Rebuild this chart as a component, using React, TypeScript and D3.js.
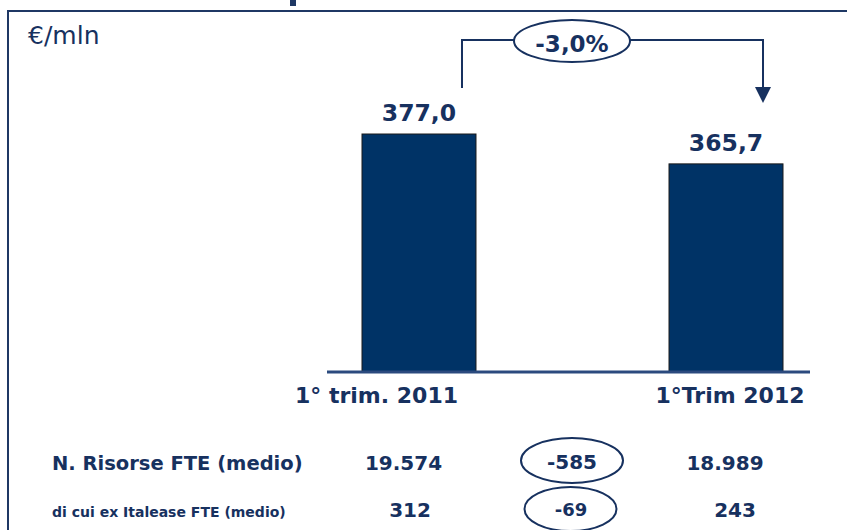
import React from "react";
import * as d3 from "d3";

const categories = ["1° trim. 2011", "1°Trim 2012"];
const values = [377.0, 365.7];
const valueLabels = ["377,0", "365,7"];
const deltaLabel = "-3,0%";
const rowLabels = ["N. Risorse FTE (medio)", "di cui ex Italease FTE (medio)"];
const rowStart = ["19.574", "312"];
const rowDelta = ["-585", "-69"];
const rowEnd = ["18.989", "243"];
const unitLabel = "€/mln";

const W = 847;
const H = 530;
const NAVY = "#003366";
const TXT = "#17315f";
const FONT = "'DejaVu Sans', Verdana, sans-serif";

export default function App() {
  const x = d3.scaleBand<string>().domain(categories).range([362, 783]).paddingInner(0.6287).paddingOuter(0);
  const y = d3.scaleLinear().domain([287, 377]).range([372, 134]);
  const bw = x.bandwidth();
  const labelOffsets = [-42.5, 4];
  const cx = (i: number) => (x(categories[i]) as number) + bw / 2;

  const bracketLeft = cx(0) + 43;
  const bracketRight = cx(1) + 37;
  const bracketTop = 40;
  const ellCx = 572;
  const ellRx = 58;

  const startX = [403.5, 410];
  const deltaX = [572, 571];
  const endX = [725, 735];
  const rowY = [470, 517];
  const rowFont = [19.5, 14];
  const deltaFont = [20, 18];
  const ellipses = [
    { cx: 572, cy: 460.5, rx: 51, ry: 22.5 },
    { cx: 570.5, cy: 509, rx: 46, ry: 22 },
  ];

  return (
    <svg width={W} height={H} style={{ position: "absolute", left: 0, top: 0, background: "#fff" }}>
      {/* frame */}
      <line x1={7} y1={11} x2={W} y2={11} stroke="#1f3864" strokeWidth={2} />
      <line x1={8} y1={10} x2={8} y2={H} stroke="#1f3864" strokeWidth={2} />
      <rect x={290} y={0} width={6} height={6} fill="#1f3864" />

      <text x={28} y={44} fontFamily={FONT} fontSize={25} fill={TXT}>{unitLabel}</text>

      {/* bars */}
      {values.map((v, i) => (
        <rect key={i} x={x(categories[i])} y={y(v)} width={bw} height={y.range()[0] - y(v)} fill={NAVY} stroke="#1a1a1a" strokeWidth={1} />
      ))}
      <line x1={327} x2={810} y1={372} y2={372} stroke="#2b4a7e" strokeWidth={3} />

      {values.map((v, i) => (
        <text key={i} x={cx(i)} y={y(v) - 13} textAnchor="middle" fontFamily={FONT} fontWeight="bold" fontSize={23.5} fill={TXT}>{valueLabels[i]}</text>
      ))}
      {categories.map((c, i) => (
        <text key={i} x={cx(i) + labelOffsets[i]} y={403} textAnchor="middle" fontFamily={FONT} fontWeight="bold" fontSize={22} fill={TXT}>{c}</text>
      ))}

      {/* bracket */}
      <path d={`M${bracketLeft},88 V${bracketTop} H${ellCx - ellRx} M${ellCx + ellRx},${bracketTop} H${bracketRight} V90`} fill="none" stroke={TXT} strokeWidth={2} />
      <path d={`M${bracketRight - 8},87 L${bracketRight + 8},87 L${bracketRight},103 Z`} fill={TXT} />
      <ellipse cx={ellCx} cy={41} rx={ellRx} ry={21} fill="#fff" stroke={TXT} strokeWidth={2} />
      <text x={ellCx} y={52} textAnchor="middle" fontFamily={FONT} fontWeight="bold" fontSize={23} fill={TXT}>{deltaLabel}</text>

      {/* table */}
      {rowLabels.map((l, r) => (
        <g key={r}>
          <text x={52} y={rowY[r]} fontFamily={FONT} fontWeight="bold" fontSize={rowFont[r]} fill={TXT}>{l}</text>
          <text x={startX[r]} y={rowY[r]} textAnchor="middle" fontFamily={FONT} fontWeight="bold" fontSize={20} fill={TXT}>{rowStart[r]}</text>
          <ellipse cx={ellipses[r].cx} cy={ellipses[r].cy} rx={ellipses[r].rx} ry={ellipses[r].ry} fill="none" stroke={TXT} strokeWidth={2} />
          <text x={deltaX[r]} y={rowY[r] - 1} textAnchor="middle" fontFamily={FONT} fontWeight="bold" fontSize={deltaFont[r]} fill={TXT}>{rowDelta[r]}</text>
          <text x={endX[r]} y={rowY[r]} textAnchor="middle" fontFamily={FONT} fontWeight="bold" fontSize={20} fill={TXT}>{rowEnd[r]}</text>
        </g>
      ))}
    </svg>
  );
}
